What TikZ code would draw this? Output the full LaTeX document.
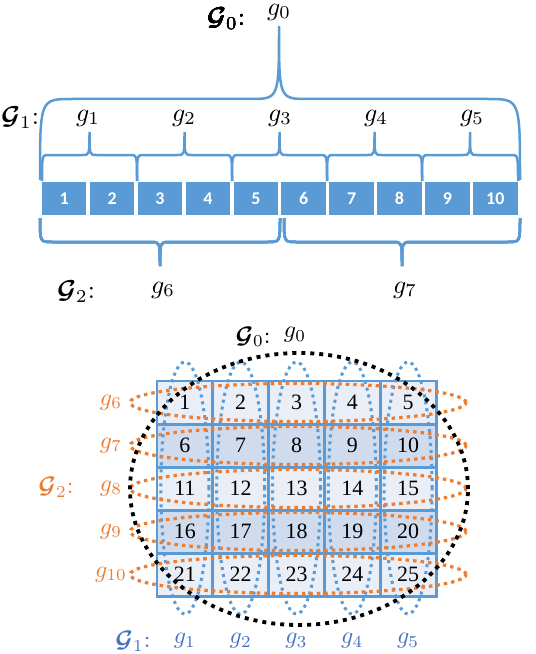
\documentclass[tikz,border=0pt]{standalone}
\usepackage{amsmath}
\usepackage[no-math]{fontspec}
\newfontfamily\segfont{Carlito}
\newfontfamily\cellfont{Liberation Serif}
\usepackage{tikz}
\definecolor{offblue}{HTML}{5B9BD5}
\definecolor{offorange}{HTML}{ED7D31}
\definecolor{lblblue}{HTML}{4472C4}
\definecolor{celllight}{HTML}{E9EEF7}
\definecolor{celldark}{HTML}{D0DCEE}
\tikzset{
  brc/.style={draw=offblue, line width=2.5bp},
  biglbl/.style={scale=2.6, inner sep=0pt},
  smalllbl/.style={scale=2.4, inner sep=0pt},
  segbox/.style={fill=offblue, minimum width=44.5bp, minimum height=33bp, inner sep=0pt,
    text=white, font=\segfont\bfseries\fontsize{18}{20}\selectfont},
  cellbox/.style={minimum width=55.8bp, minimum height=43bp,
    inner sep=0pt, font=\cellfont\fontsize{22}{24}\selectfont},
  gridln/.style={draw=offblue, line width=2.6bp},
  bluedot/.style={draw=offblue, line width=3bp, dash pattern=on 3bp off 4bp},
  orgdot/.style={draw=offorange, line width=3.2bp, dash pattern=on 3.5bp off 4bp},
  blkdot/.style={draw=black, line width=3.8bp, dash pattern=on 4bp off 5bp}
}
\begin{document}
\begin{tikzpicture}[x=1bp, y=-1bp]
        \useasboundingbox (0,0) rectangle (536,654);
        \def\brc#1#2#3#4#5#6#7#8{\draw[brc] ({#1},{#4}) .. controls ({#1},{#5}) .. ({#1+#7},{#5}) -- ({#3-#8},{#5}) .. controls ({#3},{#5}) .. ({#3},{#6}) .. controls ({#3},{#5}) .. ({#3+#8},{#5}) -- ({#2-#7},{#5}) .. controls ({#2},{#5}) .. ({#2},{#4});}
        \def\colx(#1){157+55.8*(#1-0.5)}
        \def\rowy(#1){381+43*(#1-0.5)}
        \foreach \i in {1,...,10}
            \node[segbox] (b\i) at ({64.2+47.9*(\i-1)},198.5) {\i};
        \brc{40}{520}{279}{180}{99}{26}{32}{29}
        \foreach \l/\r in {42/137,137/232,232/327,327/422,422/518}
            \brc{\l}{\r}{(\l+\r)/2}{181}{155}{132}{7}{7}
        \brc{40}{280}{160}{218}{242}{266}{12}{9}
        \brc{284}{520}{402}{218}{242}{266}{12}{9}
        \node[biglbl] (topG0) at (226,19) {$\boldsymbol{\mathcal{G}}_0${:}};
        \node[biglbl] (topg0) at (279,12) {$g_0$};
        \node[biglbl] (topG1) at (20,118) {$\boldsymbol{\mathcal{G}}_1${:}};
        \foreach \i/\x in {1/88,2/184,3/280,4/376,5/472}
            \node[biglbl] (topg\i) at (\x,118) {$g_\i$};
        \node[biglbl] (topG2) at (76,292) {$\boldsymbol{\mathcal{G}}_2${:}};
        \node[biglbl] (topg6) at (163,290) {$g_6$};
        \node[biglbl] (topg7) at (405,290) {$g_7$};
        \foreach \r in {1,...,5}
            \foreach \c in {1,...,5} {
                \pgfmathtruncatemacro\n{(\r-1)*5+\c}
                \ifodd\r \def\cf{celllight}\else \def\cf{celldark}\fi
                \node[cellbox, fill=\cf] (c\n) at ({\colx(\c)},{\rowy(\r)}) {\n};
            }
        \foreach \n in {1,...,25}
            \draw[gridln] (c\n.north west) rectangle (c\n.south east);
        \foreach \c in {1,...,5}
            \draw[bluedot] ({\colx(\c)},488) ellipse [x radius=24bp, y radius=126bp];
        \foreach \r in {1,...,5}
            \draw[orgdot] (298,{\rowy(\r)}) ellipse [x radius=168bp, y radius=19bp];
        \draw[blkdot] (299,489) ellipse [x radius=169bp, y radius=136bp];
        \node[smalllbl] (gridG0) at (253,337) {$\boldsymbol{\mathcal{G}}_0${:}};
        \node[smalllbl] (gridg0) at (295,335) {$g_0$};
        \node[smalllbl, text=offorange] (gridG2) at (56,487) {$\boldsymbol{\mathcal{G}}_2${:}};
        \foreach \r/\k in {1/6,2/7,3/8,4/9,5/10}
            \node[smalllbl, text=offorange] (gridg\k) at (111,{\rowy(\r)}) {$g_{\k}$};
        \node[smalllbl, text=lblblue] (gridG1) at (133,641) {$\boldsymbol{\mathcal{G}}_1${:}};
        \foreach \c in {1,...,5}
            \node[smalllbl, text=lblblue] (gridg\c) at ({\colx(\c)},641) {$g_\c$};
    \end{tikzpicture}
\end{document}
